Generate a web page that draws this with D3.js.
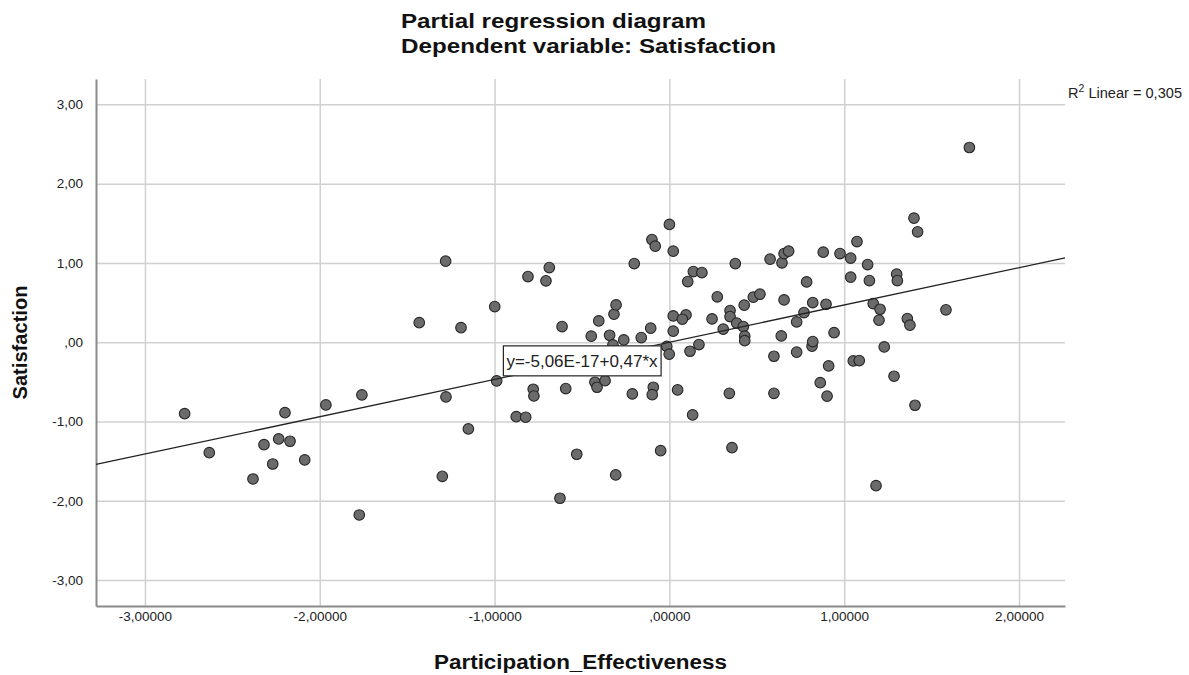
<!DOCTYPE html>
<html>
<head>
<meta charset="utf-8">
<script src="https://cdn.jsdelivr.net/npm/d3@7"></script>
<style>
  html, body { margin: 0; padding: 0; background: #fff; }
  svg { display: block; font-family: Arial, "Liberation Sans", sans-serif; }
</style>
</head>
<body>
<svg id="chart" width="1189" height="675"></svg>
<script>
// ---- Data ----
const xValues = [
  -2.773, -2.632, -2.382, -2.319, -2.269, -2.235, -2.199, -2.170, -2.086, -1.965,
  -1.774, -1.759, -1.431, -1.280, -1.278, -1.299, -1.192, -1.150, -0.999, -0.988,
  -0.876, -0.822, -0.809, -0.779, -0.775, -0.706, -0.687, -0.626, -0.614, -0.593,
  -0.530, -0.447, -0.426, -0.414, -0.404, -0.368, -0.342, -0.323, -0.317, -0.305,
  -0.307, -0.261, -0.212, -0.201, -0.161, -0.107, -0.100, -0.081, -0.092, -0.098,
  -0.050, -0.015, -0.001, 0.000, 0.022, 0.022, 0.022, 0.047, 0.095, 0.074,
  0.105, 0.118, 0.133, 0.137, 0.169, 0.186, 0.244, 0.274, 0.308, 0.343,
  0.347, 0.347, 0.358, 0.377, 0.385, 0.423, 0.428, 0.431, 0.431, 0.480,
  0.518, 0.576, 0.598, 0.598, 0.640, 0.644, 0.656, 0.656, 0.682, 0.728,
  0.728, 0.770, 0.785, 0.816, 0.820, 0.820, 0.863, 0.880, 0.896, 0.902,
  0.911, 0.942, 0.976, 1.037, 1.037, 1.052, 1.086, 1.073, 1.134, 1.144,
  1.166, 1.182, 1.199, 1.205, 1.229, 1.285, 1.300, 1.304, 1.361, 1.376,
  1.399, 1.420, 1.405, 1.582, 1.716
];
const yValues = [
  -0.901, -1.393, -1.725, -1.292, -1.536, -1.220, -0.888, -1.249, -1.485, -0.791,
  -2.179, -0.665, 0.247, 1.022, -0.690, -1.691, 0.184, -1.094, 0.449, -0.488,
  -0.939, -0.946, 0.828, -0.593, -0.678, 0.774, 0.941, -1.968, 0.197, -0.585,
  -1.413, 0.076, -0.505, -0.568, 0.269, -0.485, 0.088, -0.034, 0.353, 0.471,
  -1.674, 0.029, -0.652, 0.992, 0.058, 0.177, 1.295, 1.211, -0.568, -0.661,
  -1.368, -0.053, -0.151, 1.486, 1.148, 0.332, 0.139, -0.602, 0.344, 0.290,
  0.765, -0.114, -0.917, 0.891, -0.030, 0.878, 0.294, 0.572, 0.164, -0.644,
  0.399, 0.323, -1.330, 0.992, 0.240, 0.197, 0.467, 0.076, 0.020, 0.568,
  0.606, 1.047, -0.177, -0.644, 0.079, 1.001, 0.534, 1.118, 1.148, 0.256,
  -0.126, 0.374, 0.761, -0.050, 0.008, 0.500, -0.510, 1.136, 0.479, -0.681,
  -0.299, 0.121, 1.118, 1.060, 0.820, -0.236, -0.232, 1.269, 0.979, 0.777,
  0.487, -1.809, 0.278, 0.416, -0.059, -0.429, 0.858, 0.777, 0.298, 0.215,
  1.565, 1.392, -0.795, 0.408, 2.456
];
const xTicks = [-3, -2, -1, 0, 1, 2];
const xTickLabels = ["-3,00000", "-2,00000", "-1,00000", ",00000", "1,00000", "2,00000"];
const yTicks = [-3, -2, -1, 0, 1, 2, 3];
const yTickLabels = ["-3,00", "-2,00", "-1,00", ",00", "1,00", "2,00", "3,00"];
const fitIntercept = -5.06e-17;
const fitSlope = 0.47;
const equationLabel = "y=-5,06E-17+0,47*x";
const rSquaredLabel = ["R", "2", " Linear = 0,305"];
const titleLines = ["Partial regression diagram", "Dependent variable: Satisfaction"];
const xAxisTitle = "Participation_Effectiveness";
const yAxisTitle = "Satisfaction";

// ---- Layout ----
const svg = d3.select("#chart");
const plotLeft = 96, plotRight = 1065, plotTop = 79, plotBottom = 606;
const x = d3.scaleLinear().domain([-3.28, 2.263]).range([plotLeft, plotRight]);
const y = d3.scaleLinear().domain([-3.327, 3.32]).range([plotBottom, plotTop]);
const FONT = "Arial, 'Liberation Sans', sans-serif";

// Gridlines
const gridColor = "#d0d0d0";
svg.append("g")
  .attr("transform", `translate(0,${plotBottom})`)
  .call(d3.axisBottom(x).tickValues(xTicks).tickSize(-(plotBottom - plotTop)).tickFormat(""))
  .call(g => g.select(".domain").remove())
  .call(g => g.selectAll("line").attr("stroke", gridColor).attr("stroke-width", 1.5));
svg.append("g")
  .attr("transform", `translate(${plotLeft},0)`)
  .call(d3.axisLeft(y).tickValues(yTicks).tickSize(-(plotRight - plotLeft)).tickFormat(""))
  .call(g => g.select(".domain").remove())
  .call(g => g.selectAll("line").attr("stroke", gridColor).attr("stroke-width", 1.5));

// Axes (labels)
const xAxis = svg.append("g")
  .attr("transform", `translate(0,${plotBottom})`)
  .call(d3.axisBottom(x).tickValues(xTicks).tickSize(0).tickPadding(5)
    .tickFormat((d, i) => xTickLabels[i]));
xAxis.select(".domain").attr("stroke", "#8a8a8a").attr("stroke-width", 2);
xAxis.selectAll("text").attr("font-size", 13.5).attr("fill", "#222").attr("font-family", FONT);

const yAxis = svg.append("g")
  .attr("transform", `translate(${plotLeft},0)`)
  .call(d3.axisLeft(y).tickValues(yTicks).tickSize(0).tickPadding(13)
    .tickFormat((d, i) => yTickLabels[i]));
yAxis.select(".domain").attr("stroke", "#8a8a8a").attr("stroke-width", 2);
yAxis.selectAll("text").attr("font-size", 13.5).attr("fill", "#222").attr("font-family", FONT);

// Points
const pts = xValues.map((v, i) => ({ x: v, y: yValues[i] }));
svg.append("g").selectAll("circle").data(pts).join("circle")
  .attr("cx", d => x(d.x)).attr("cy", d => y(d.y)).attr("r", 5.3)
  .attr("fill", "#6b6b6b").attr("stroke", "#262626").attr("stroke-width", 1.1);

// Fit line
const xd = x.domain();
svg.append("line")
  .attr("x1", x(xd[0])).attr("y1", y(fitIntercept + fitSlope * xd[0]))
  .attr("x2", x(xd[1])).attr("y2", y(fitIntercept + fitSlope * xd[1]))
  .attr("stroke", "#222").attr("stroke-width", 1.3);

// Equation box
const eqX = -0.5;
const eqCx = x(eqX), eqCy = y(fitIntercept + fitSlope * eqX);
const eqG = svg.append("g");
const eqRect = eqG.append("rect");
const eqText = eqG.append("text")
  .attr("x", eqCx).attr("y", eqCy + 6)
  .attr("text-anchor", "middle").attr("font-size", 17).attr("fill", "#222")
  .text(equationLabel);
const bb = eqText.node().getBBox();
eqRect.attr("x", bb.x - 3).attr("y", eqCy - 15).attr("width", bb.width + 6).attr("height", 30)
  .attr("fill", "#fff").attr("stroke", "#222").attr("stroke-width", 1.2);

// R² label
const r2 = svg.append("text").attr("x", 1068).attr("y", 98).attr("font-size", 14)
  .attr("fill", "#222").attr("textLength", 114).attr("lengthAdjust", "spacingAndGlyphs");
r2.append("tspan").text(rSquaredLabel[0]);
r2.append("tspan").attr("dy", -6).attr("font-size", 10).text(rSquaredLabel[1]);
r2.append("tspan").attr("dy", 6).text(rSquaredLabel[2]);

// Titles
const titleWidths = [305, 375];
svg.append("g").selectAll("text").data(titleLines).join("text")
  .attr("x", 401).attr("y", (d, i) => 28 + i * 25)
  .attr("font-size", 21).attr("font-weight", "bold").attr("fill", "#111")
  .attr("textLength", (d, i) => titleWidths[i]).attr("lengthAdjust", "spacingAndGlyphs")
  .text(d => d);

svg.append("text")
  .attr("x", (plotLeft + plotRight) / 2).attr("y", 669)
  .attr("text-anchor", "middle").attr("font-size", 20).attr("font-weight", "bold").attr("fill", "#111")
  .attr("textLength", 293).attr("lengthAdjust", "spacingAndGlyphs")
  .text(xAxisTitle);

svg.append("text")
  .attr("transform", `translate(27,${(plotTop + plotBottom) / 2}) rotate(-90)`)
  .attr("text-anchor", "middle").attr("font-size", 20).attr("font-weight", "bold").attr("fill", "#111")
  .attr("textLength", 114).attr("lengthAdjust", "spacingAndGlyphs")
  .text(yAxisTitle);
</script>
</body>
</html>
